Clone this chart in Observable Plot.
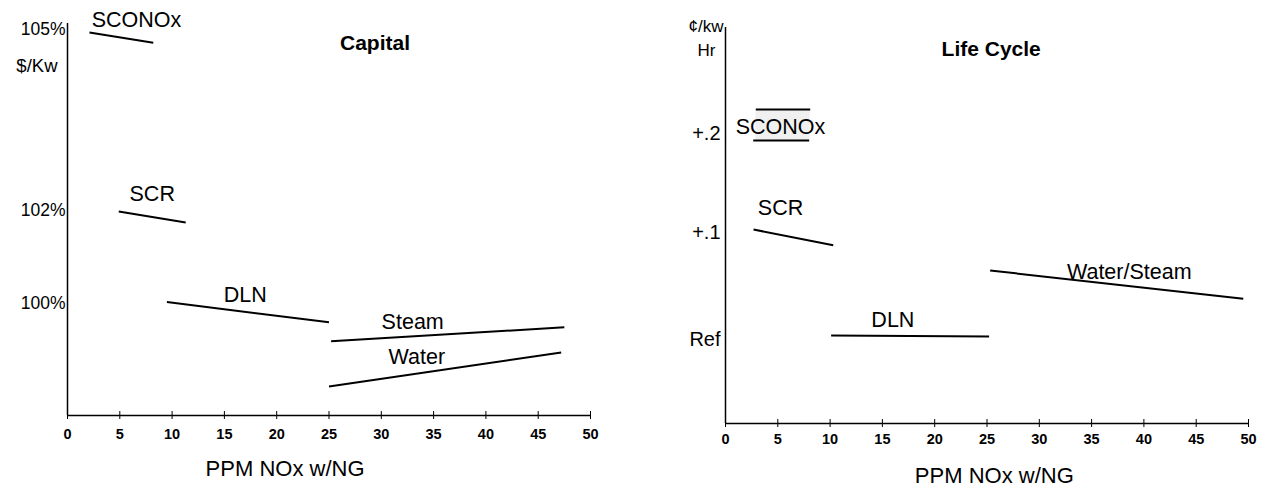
<!DOCTYPE html>
<html>
<head>
<meta charset="utf-8">
<script src="https://cdn.jsdelivr.net/npm/d3@7"></script>
<script src="https://cdn.jsdelivr.net/npm/@observablehq/plot@0.6"></script>
<style>
  html, body { margin: 0; padding: 0; background: #fff; }
  #wrap { display: flex; width: 1262px; height: 498px; }
  #wrap svg { overflow: visible; }
</style>
</head>
<body>
<div id="wrap"></div>
<script>
// ---------- shared ----------
const xTicks = [0, 5, 10, 15, 20, 25, 30, 35, 40, 45, 50];
const xLabel = "PPM NOx w/NG";

// ---------- Capital chart ----------
const capitalTitle = "Capital";
const capitalUnit = "$/Kw";
const capitalYTicks = [100, 102, 105];
const capitalSeries = ["SCONOx", "SCR", "DLN", "Steam", "Water"];
const capitalX1 = [2.1, 4.9, 9.5, 25.2, 25.0];
const capitalY1 = [104.95, 101.98, 100.03, 99.19, 98.22];
const capitalX2 = [8.2, 11.3, 25.0, 47.5, 47.2];
const capitalY2 = [104.78, 101.74, 99.6, 99.49, 98.95];
const capitalLabelX = [6.6, 8.1, 17.0, 33.0, 33.4];
const capitalLabelY = [105.15, 102.27, 100.19, 99.6, 98.85];

// ---------- Life Cycle chart ----------
const lifeTitle = "Life Cycle";
const lifeUnit = ["¢/kw", "Hr"];
const lifeYTicks = [0, 0.1, 0.2];
const lifeYTickLabels = ["Ref", "+.1", "+.2"];
const lifeSeries = ["SCONOx high", "SCONOx low", "SCR", "DLN", "Water/Steam"];
const lifeX1 = [2.9, 2.65, 2.68, 10.1, 25.3];
const lifeY1 = [0.225, 0.193, 0.103, 0.0037, 0.0645];
const lifeX2 = [8.1, 8.0, 10.3, 25.2, 49.5];
const lifeY2 = [0.225, 0.193, 0.088, 0.0028, 0.038];
const lifeLabels = ["SCONOx", "SCR", "DLN", "Water/Steam"];
const lifeLabelX = [5.26, 5.26, 16.0, 38.6];
const lifeLabelY = [0.207, 0.125, 0.018, 0.063];
const sconoxBand = {x1: 2.9, x2: 8.1, y1: 0.193, y2: 0.225};

// ---------- tables ----------
const capSegs = capitalSeries.map((s, i) => ({s, x1: capitalX1[i], y1: capitalY1[i], x2: capitalX2[i], y2: capitalY2[i]}));
const capLabs = capitalSeries.map((s, i) => ({s, x: capitalLabelX[i], y: capitalLabelY[i]}));
const lifeSegs = lifeSeries.map((s, i) => ({s, x1: lifeX1[i], y1: lifeY1[i], x2: lifeX2[i], y2: lifeY2[i]}));
const lifeLabs = lifeLabels.map((s, i) => ({s, x: lifeLabelX[i], y: lifeLabelY[i]}));

const font = "'Liberation Sans', Arial, Helvetica, sans-serif";

// Capital: schematic (non-uniform) value axis -> piecewise scale
const capDomain = [97.6, 100, 102, 105, 105.1];
const capRange = [415, 303, 210, 29, 23];

const left = Plot.plot({
  width: 631, height: 498,
  marginLeft: 67, marginRight: 41, marginTop: 20, marginBottom: 87,
  style: {fontFamily: font, background: "#fff", color: "#000"},
  x: {domain: [0, 50]},
  y: {type: "linear", domain: capDomain, range: capRange},
  marks: [
    Plot.ruleX([0], {y1: capDomain[0], y2: capDomain[capDomain.length - 1], stroke: "#000", strokeWidth: 1.5}),
    Plot.ruleY([capDomain[0]], {x1: 0, x2: 50, stroke: "#000", strokeWidth: 1.5}),
    Plot.axisX({ticks: xTicks, tickSize: 8, tickPadding: 9, fontSize: 14.5, fontWeight: "bold", label: null, tickFormat: d => String(d)}),
    Plot.axisY({ticks: capitalYTicks, tickSize: 0, tickPadding: 2, fontSize: 17.5, label: null, tickFormat: d => d + "%"}),
    Plot.text([capitalUnit], {x: 0, y: 104.4, dx: -10, textAnchor: "end", fontSize: 18.5}),
    Plot.link(capSegs, {x1: "x1", y1: "y1", x2: "x2", y2: "y2", stroke: "#000", strokeWidth: 2}),
    Plot.text(capLabs, {x: "x", y: "y", text: "s", fontSize: 21.5}),
    Plot.text([capitalTitle], {x: 29.4, y: 104.77, fontSize: 21, fontWeight: "bold"}),
    Plot.text([xLabel], {x: 20.8, frameAnchor: "bottom", dy: 64, fontSize: 22})
  ]
});

// Life cycle: piecewise too
const lifeDomain = [-0.08, 0, 0.1, 0.2, 0.31];
const lifeRange = [423, 339, 232, 133, 27];

const right = Plot.plot({
  width: 631, height: 498,
  marginLeft: 94, marginRight: 14, marginTop: 20, marginBottom: 79,
  style: {fontFamily: font, background: "#fff", color: "#000"},
  x: {domain: [0, 50]},
  y: {type: "linear", domain: lifeDomain, range: lifeRange},
  marks: [
    Plot.rect([sconoxBand], {x1: "x1", x2: "x2", y1: "y1", y2: "y2", fill: "#f0f0f0"}),
    Plot.ruleX([0], {y1: lifeDomain[0], y2: lifeDomain[lifeDomain.length - 1], stroke: "#000", strokeWidth: 1.5}),
    Plot.ruleY([lifeDomain[0]], {x1: 0, x2: 50, stroke: "#000", strokeWidth: 1.5}),
    Plot.axisX({ticks: xTicks, tickSize: 8, tickPadding: 6, fontSize: 14.5, fontWeight: "bold", label: null, tickFormat: d => String(d)}),
    Plot.axisY({ticks: lifeYTicks, tickSize: 0, tickPadding: 5, fontSize: 20, label: null,
      tickFormat: d => lifeYTickLabels[lifeYTicks.indexOf(d)]}),
    Plot.text([lifeUnit[0]], {x: 0, y: 0.311, dx: -2, textAnchor: "end", fontSize: 17}),
    Plot.text([lifeUnit[1]], {x: 0, y: 0.286, dx: -19, fontSize: 17}),
    Plot.link(lifeSegs, {x1: "x1", y1: "y1", x2: "x2", y2: "y2", stroke: "#000", strokeWidth: 2}),
    Plot.text(lifeLabs, {x: "x", y: "y", text: "s", fontSize: 21.5}),
    Plot.text([lifeTitle], {x: 25.4, y: 0.287, fontSize: 21, fontWeight: "bold"}),
    Plot.text([xLabel], {x: 25.7, frameAnchor: "bottom", dy: 63, fontSize: 22})
  ]
});

document.getElementById("wrap").append(left, right);
</script>
</body>
</html>
